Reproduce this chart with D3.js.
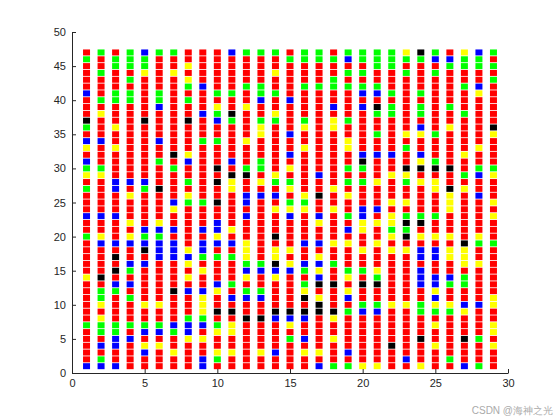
<!DOCTYPE html>
<html><head><meta charset="utf-8">
<script src="https://cdn.jsdelivr.net/npm/d3@7"></script>
<style>body{margin:0;background:#fff}svg{font-family:"Liberation Sans",Arial,sans-serif}</style>
</head><body><svg id="c" width="560" height="420"></svg>
<script>
// rows from y=47 (top) down to y=1, one char per column x=1..29
var rows = [
"rgrgbggrrr"+"bgggrggrgg"+"ggykgrybg",
"grgggrrrrr"+"rrrrggggbg"+"ggggbbggr",
"rrgggrryrr"+"rrrrrrrrrr"+"ggrrrgggg",
"rgrryryrrr"+"rrryrrrrgg"+"rrgrgrrrr",
"rrrgrrryrr"+"rrrrrrrgrr"+"rrrrrrrrg",
"rrrrrrrgbr"+"rggrrggggg"+"grrrrrgbr",
"brggrgrrrg"+"grggrrrrrb"+"bgrgrrryr",
"rgggrgrgrr"+"rrbrbrrrrr"+"rrrrrrrrr",
"rrrrrbrrry"+"ryrrrrrbrb"+"kgrgrgrrr",
"ryrrrrrrbg"+"krryrrrrrr"+"ggrgrrgrr",
"krrrkrrkrb"+"grggrgrygr"+"rrrrrrrrr",
"gryrrrrrrr"+"rryrryryrr"+"rrrbryrrk",
"rrrrrrrrrr"+"rryrbrrrrr"+"gryygrrry",
"bbrrrbrrgg"+"ryrrrrrryr"+"rrrrrrrrr",
"yryrrrrrrr"+"rrrrryrryr"+"rrgrrrryr",
"rrrrrrkyrr"+"rrrrbrrrrb"+"bbrbrryrr",
"brrrrgrbrr"+"brgrrrrrrk"+"rrrygrrrr",
"ggrrrrgrrk"+"rggryrrrgg"+"rrkkkkrgg",
"yyrrrrrrrr"+"kkryrrbrrr"+"ryyrrrgby",
"rrbbbrrgrk"+"yryggrrrgg"+"yrgyyrrrr",
"grbrgkrrrr"+"yrrryrryrr"+"rrrrykyrr",
"rrryrrryrr"+"rbbbrykryr"+"rrrrryrbr",
"rrrrrrbggk"+"rbrrggrrrr"+"ryyrryrry",
"rrrrrryrrr"+"rrryyyryrb"+"brrrryrrr",
"bbbrrrrrrr"+"rbrrbrbrgb"+"rygggrrry",
"rrryryrrrb"+"rrrrrryrry"+"yykkrrrrr",
"rrrrbbbrbb"+"yrrrrrrrby"+"rggrrrrrr",
"gyryggrrry"+"rrrkrrrrrr"+"rykyyyryr",
"rbbbbbbrbb"+"byrrrbbyyr"+"yrrrrrkgg",
"rrrrkbbybr"+"ryryyrrrry"+"ryybbyyrr",
"rrkrrbbbgg"+"gyryrryrrr"+"rrrbbyyrr",
"rrrbbrryrr"+"rggkybbgrr"+"rrrrrryyr",
"rrkgrrrryr"+"rbbbbgyrgg"+"yrrbrrrrr",
"ykrrrrryrr"+"ryryrrbryr"+"grrbbbgrr",
"rrbbrrrrrb"+"grrrrgkkrk"+"krrbbggrr",
"rggrrrkbby"+"rggrryrryr"+"rrrryrrrr",
"rgrgrrrryr"+"bbbrrkyrbr"+"rrrrbrrry",
"ryrryyrryr"+"rrrrrrkrrg"+"gyygyybby",
"rrrrrrrryk"+"krrkkkkkgb"+"brrgggyrr",
"ryrrrrrggr"+"rkkbbbryrr"+"rrrrrrrrr",
"ggggggbbbg"+"yrrryrrrrr"+"rrrryrrry",
"rggrbbgbry"+"yrrrrrrrrr"+"rrrrrrrry",
"rrbbrrryyr"+"rrrrgbryrr"+"rrrkrrkgr",
"rbbryyrrrr"+"rrrrrrrrrr"+"rkrryrrry",
"rrrrbryrry"+"yrybryyrbr"+"rrrrrrrrr",
"rgrrrrrrbg"+"rrrrrrrrrr"+"rrbrrgrrr",
"bbbrrrrrbr"+"rrrrrrbggy"+"yrryrrbgr"
];
var colorOf = {r:"#ff0000", g:"#00ff00", b:"#0000ff", y:"#ffff00", k:"#000000"};
var xTicks = [0,5,10,15,20,25,30];
var yTicks = [0,5,10,15,20,25,30,35,40,45,50];

var cells = [];
rows.forEach(function(s, i) {
  for (var j = 0; j < s.length; j++) cells.push({x: j + 1, y: 47 - i, c: s[j]});
});

var svg = d3.select("#c");
var x = d3.scaleLinear().domain([0, 30]).range([72, 508]);
var y = d3.scaleLinear().domain([0, 50]).range([373, 32]);

svg.append("g").selectAll("rect").data(cells).enter().append("rect")
  .attr("x", function(d) { return x(d.x) - 3.5; })
  .attr("y", function(d) { return y(d.y) - 3; })
  .attr("width", 7).attr("height", 6)
  .attr("fill", function(d) { return colorOf[d.c]; });

var ax = svg.append("g").attr("transform", "translate(0,373)")
  .call(d3.axisBottom(x).tickValues(xTicks).tickSizeInner(-4).tickSizeOuter(0).tickPadding(6));
var ay = svg.append("g").attr("transform", "translate(72,0)")
  .call(d3.axisLeft(y).tickValues(yTicks).tickSizeInner(-4).tickSizeOuter(0).tickPadding(6));
[ax, ay].forEach(function(a) {
  a.selectAll("path,line").attr("stroke", "#262626");
  a.selectAll("text").attr("font-size", 11).attr("fill", "#262626");
});

svg.append("text").attr("x", 553).attr("y", 414).attr("text-anchor", "end")
  .attr("font-size", 10).attr("fill", "#aaa").text("CSDN @海神之光");
</script></body></html>
